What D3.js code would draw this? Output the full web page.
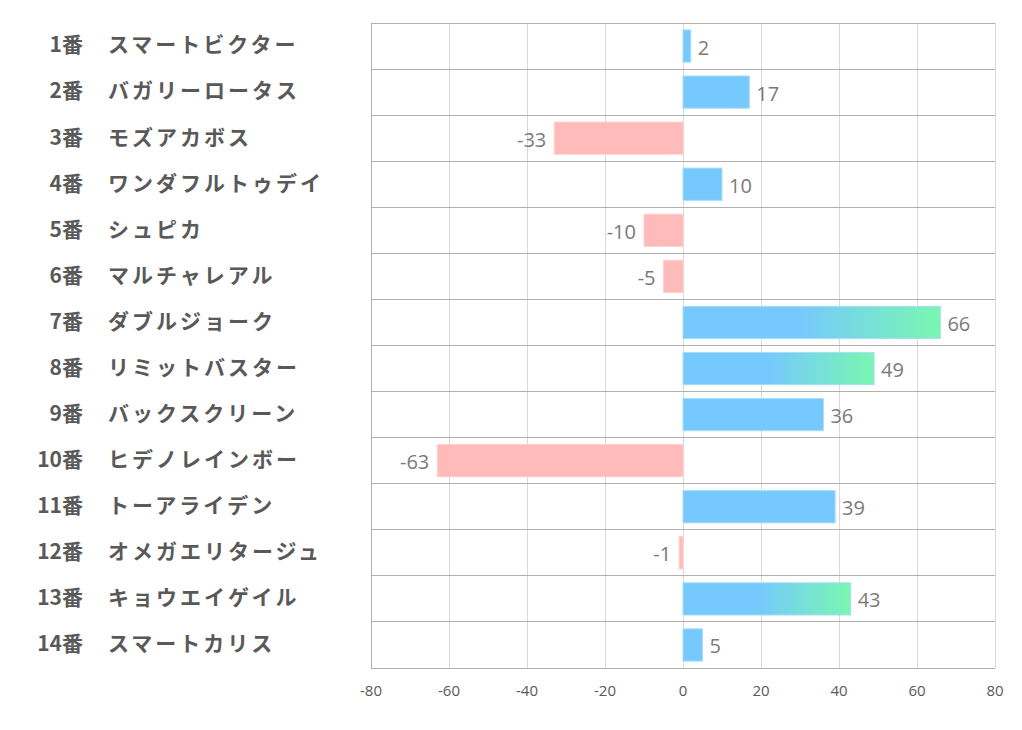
<!DOCTYPE html>
<html><head><meta charset="utf-8">
<script src="https://cdn.jsdelivr.net/npm/d3@7"></script>
<style>
html,body{margin:0;padding:0;background:#fff;}
svg{display:block;}
</style></head>
<body>
<svg id="chart" width="1022" height="730"></svg>
<script>
const numbers = ["1番","2番","3番","4番","5番","6番","7番","8番","9番","10番","11番","12番","13番","14番"];
const names = ["スマートビクター","バガリーロータス","モズアカボス","ワンダフルトゥデイ","シュピカ","マルチャレアル","ダブルジョーク","リミットバスター","バックスクリーン","ヒデノレインボー","トーアライデン","オメガエリタージュ","キョウエイゲイル","スマートカリス"];
const values = [2,17,-33,10,-10,-5,66,49,36,-63,39,-1,43,5];
const xTicks = [-80,-60,-40,-20,0,20,40,60,80];
const highlightFrom = 40;

const svg = d3.select("#chart");
const pL = 371, pR = 995, pT = 23, pB = 668;

const x = d3.scaleLinear().domain([-80,80]).range([pL,pR]);
const y = d3.scaleBand().domain(numbers).range([pT,pB]).paddingInner(0.3).paddingOuter(0.15);
const row = d3.scaleBand().domain(numbers).range([pT,pB]);

const defs = svg.append("defs");
const grad = defs.append("linearGradient").attr("id","g1").attr("x1","0").attr("x2","1").attr("y1","0").attr("y2","0");
grad.append("stop").attr("offset","0").attr("stop-color","#76c9fd");
grad.append("stop").attr("offset","0.45").attr("stop-color","#76c9fd");
grad.append("stop").attr("offset","1").attr("stop-color","#79f7b1");

// vertical gridlines
svg.append("g").selectAll("line").data(xTicks).join("line")
  .attr("x1",d=>x(d)).attr("x2",d=>x(d)).attr("y1",pT).attr("y2",pB)
  .attr("stroke",d=> d===-80 ? "#b0b0b0" : "#d9d9d9").attr("stroke-width",1)
  .attr("shape-rendering","crispEdges");

// horizontal row borders
const hl = numbers.map(n=>row(n)).concat([pB]);
svg.append("g").selectAll("line").data(hl).join("line")
  .attr("x1",pL).attr("x2",pR).attr("y1",d=>d).attr("y2",d=>d)
  .attr("stroke","#b0b0b0").attr("stroke-width",1).attr("shape-rendering","crispEdges");

// bars
const data = numbers.map((n,i)=>({n, name:names[i], v:values[i]}));
svg.append("g").selectAll("rect").data(data).join("rect")
  .attr("x",d=>x(Math.min(0,d.v))).attr("width",d=>Math.abs(x(d.v)-x(0)))
  .attr("y",d=>y(d.n)).attr("height",y.bandwidth())
  .attr("fill",d=> d.v<0 ? "#ffbaba" : (d.v>=highlightFrom ? "url(#g1)" : "#76c9fd"))
  .attr("stroke",d=> d.v<0 ? "#ffd0d0" : "#a8dcfd").attr("stroke-width",1);

// value labels
svg.append("g").selectAll("text").data(data).join("text")
  .attr("x",d=> d.v<0 ? x(d.v)-8 : x(d.v)+7)
  .attr("y",d=>y(d.n)+y.bandwidth()/2+1.5)
  .attr("dy","0.35em")
  .attr("text-anchor",d=> d.v<0 ? "end" : "start")
  .attr("font-family","'Open Sans','Noto Sans',sans-serif")
  .attr("font-size","20px").attr("fill","#7a7a7a")
  .text(d=>d.v);

// category labels
const lab = svg.append("g").selectAll("g").data(data).join("g")
  .attr("transform",d=>`translate(0,${row(d.n)+row.bandwidth()/2-1})`);
lab.append("text").attr("x",83).attr("dy","0.35em").attr("text-anchor","end")
  .attr("font-family","'Noto Sans CJK JP',sans-serif").attr("font-weight","bold")
  .attr("font-size","21px").attr("fill","#595959").text(d=>d.n);
lab.append("text").attr("x",108).attr("dy","0.35em").attr("text-anchor","start")
  .attr("font-family","'Noto Sans CJK JP',sans-serif").attr("font-weight","bold")
  .attr("font-size","21px").attr("letter-spacing","3px").attr("fill","#595959").text(d=>d.name);

// x axis tick labels
svg.append("g").selectAll("text").data(xTicks).join("text")
  .attr("x",d=>x(d)).attr("y",696).attr("text-anchor","middle")
  .attr("font-family","'Open Sans','Noto Sans',sans-serif")
  .attr("font-size","15px").attr("fill","#595959").text(d=>d);
</script>
</body></html>
